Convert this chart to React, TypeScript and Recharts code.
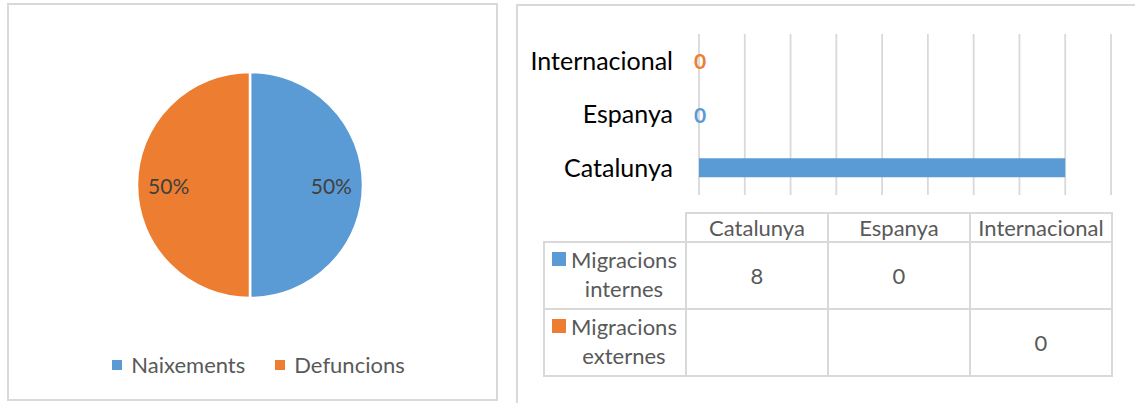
import React from 'react';
import {
  PieChart,
  Pie,
  Cell,
  Legend,
  BarChart,
  Bar,
  XAxis,
  YAxis,
  CartesianGrid,
} from 'recharts';

const C = {
  blue: '#5B9BD5',
  orange: '#ED7D31',
  grid: '#D9D9D9',
  text: '#595959',
  dark: '#404040',
  axis: '#000000',
};

const FONT = 'Lato, "Noto Sans", sans-serif';

// ─── Data ───────────────────────────────────────────────────────

const pieNames = ['Naixements', 'Defuncions'];
const pieValues = [50, 50];
const pieColors = [C.blue, C.orange];

const categories = ['Catalunya', 'Espanya', 'Internacional'];
const seriesNames = ['Migracions internes', 'Migracions externes'];
const internes: (number | null)[] = [8, 0, null];
const externes: (number | null)[] = [null, null, 0];
const xTicks = [0, 1, 2, 3, 4, 5, 6, 7, 8, 9];

const pieData = pieNames.map((name, i) => ({ name, value: pieValues[i] }));
const barData = categories.map((label, i) => ({ label, internes: internes[i], externes: externes[i] }));
const seriesValues = [internes, externes];
const seriesColors = [C.blue, C.orange];

// ─── Pie pieces ─────────────────────────────────────────────────

const RAD = Math.PI / 180;

function PieLabel(props: any) {
  const { cx, cy, midAngle, outerRadius, percent } = props;
  const r = outerRadius * 0.72;
  const x = cx + r * Math.cos(-midAngle * RAD);
  const y = cy + r * Math.sin(-midAngle * RAD);
  return (
    <text x={x} y={y} fill={C.dark} fontSize={21} fontFamily={FONT} textAnchor="middle" dominantBaseline="central">
      {`${Math.round(percent * 100)}%`}
    </text>
  );
}

function PieLegend({ payload }: any) {
  // keep the series order (the legend sorts by name otherwise)
  const items = [...(payload || [])].sort(
    (a: any, b: any) => pieNames.indexOf(a.value) - pieNames.indexOf(b.value),
  );
  return (
    <div style={{ display: 'flex', justifyContent: 'center', gap: 30, marginLeft: 12, fontFamily: FONT }}>
      {items.map((p: any) => (
        <div key={p.value} style={{ display: 'flex', alignItems: 'center', gap: 9 }}>
          <span style={{ width: 10, height: 10, background: p.color, display: 'inline-block' }} />
          <span style={{ fontSize: 22, color: C.text, lineHeight: '24px' }}>{p.value}</span>
        </div>
      ))}
    </div>
  );
}

// ─── Bar pieces ─────────────────────────────────────────────────

// Excel only shows the data labels on the zero-length bars
function ZeroLabel(color: string) {
  return (props: any) => {
    const { x, y, height, value } = props;
    if (value !== 0) return null;
    return (
      <text
        x={Number(x) + 1}
        y={Number(y) + Number(height || 0) / 2}
        fill={color}
        fontSize={21}
        fontWeight="bold"
        fontFamily={FONT}
        textAnchor="middle"
        dominantBaseline="central"
      >
        0
      </text>
    );
  };
}

// ─── Data table ─────────────────────────────────────────────────

const cell: React.CSSProperties = {
  border: `2px solid ${C.grid}`,
  width: 140,
  padding: 0,
  textAlign: 'center',
  verticalAlign: 'middle',
  color: C.text,
  fontSize: 22,
};

function DataTable() {
  return (
    <table
      style={{
        position: 'absolute',
        left: 543,
        top: 212,
        borderCollapse: 'collapse',
        tableLayout: 'fixed',
        fontFamily: FONT,
      }}
    >
      <tbody>
        <tr style={{ height: 29 }}>
          <td style={{ ...cell, border: 'none' }} />
          {categories.map((c) => (
            <td key={c} style={{ ...cell, lineHeight: '26px' }}>{c}</td>
          ))}
        </tr>
        {seriesNames.map((name, s) => (
          <tr key={name} style={{ height: 67 }}>
            <td style={cell}>
              <div style={{ display: 'flex', alignItems: 'flex-start', justifyContent: 'center', marginTop: -3 }}>
                <span
                  style={{
                    width: 14,
                    height: 14,
                    background: seriesColors[s],
                    display: 'inline-block',
                    marginTop: 7,
                    marginRight: 4,
                    flex: 'none',
                  }}
                />
                <span style={{ width: 108, lineHeight: '29px', textAlign: 'center' }}>{name}</span>
              </div>
            </td>
            {categories.map((c, i) => (
              <td key={c} style={cell}>
                {seriesValues[s][i] ?? ''}
              </td>
            ))}
          </tr>
        ))}
      </tbody>
    </table>
  );
}

// ─── App ────────────────────────────────────────────────────────

export default function App() {
  return (
    <div style={{ position: 'absolute', left: 0, top: 0, width: 1135, height: 403, background: '#fff', overflow: 'hidden' }}>
      {/* panel frames */}
      <div
        style={{
          position: 'absolute',
          left: 7,
          top: 3,
          width: 491,
          height: 398,
          border: `2px solid ${C.grid}`,
          boxSizing: 'border-box',
        }}
      />
      <div
        style={{
          position: 'absolute',
          left: 516,
          top: 4,
          width: 640,
          height: 420,
          border: `2px solid ${C.grid}`,
          boxSizing: 'border-box',
        }}
      />

      <div style={{ position: 'absolute', left: 7, top: 3 }}>
        <PieChart width={491} height={398} margin={{ top: 0, right: 0, bottom: 0, left: 0 }}>
          <Pie
            data={pieData}
            dataKey="value"
            nameKey="name"
            cx={243}
            cy={182}
            outerRadius={113}
            startAngle={90}
            endAngle={-270}
            stroke="#fff"
            strokeWidth={2.5}
            label={PieLabel}
            labelLine={false}
            isAnimationActive={false}
          >
            {pieData.map((d, i) => (
              <Cell key={d.name} fill={pieColors[i]} />
            ))}
          </Pie>
          <Legend content={PieLegend} verticalAlign="bottom" wrapperStyle={{ top: 350, bottom: 'auto', left: 0, width: 491 }} />
        </PieChart>
      </div>

      <div style={{ position: 'absolute', left: 516, top: 0 }}>
        <BarChart
          width={619}
          height={200}
          data={barData}
          layout="vertical"
          margin={{ top: 34, right: 24, bottom: 5, left: 0 }}
          barSize={19}
          barGap={-19}
        >
          <CartesianGrid horizontal={false} stroke={C.grid} strokeWidth={1.8} />
          <XAxis type="number" domain={[0, 9]} ticks={xTicks} hide />
          <YAxis
            type="category"
            dataKey="label"
            reversed
            width={183}
            axisLine={false}
            tickLine={false}
            tickSize={0}
            tickMargin={26}
            tick={{ fill: C.axis, fontSize: 25, fontFamily: FONT }}
          />
          <Bar
            dataKey="internes"
            fill={C.blue}
            name={seriesNames[0]}
            minPointSize={0.01}
            label={ZeroLabel(C.blue)}
            isAnimationActive={false}
          />
          <Bar
            dataKey="externes"
            fill={C.orange}
            name={seriesNames[1]}
            minPointSize={0.01}
            label={ZeroLabel(C.orange)}
            isAnimationActive={false}
          />
        </BarChart>
      </div>

      <DataTable />
    </div>
  );
}
